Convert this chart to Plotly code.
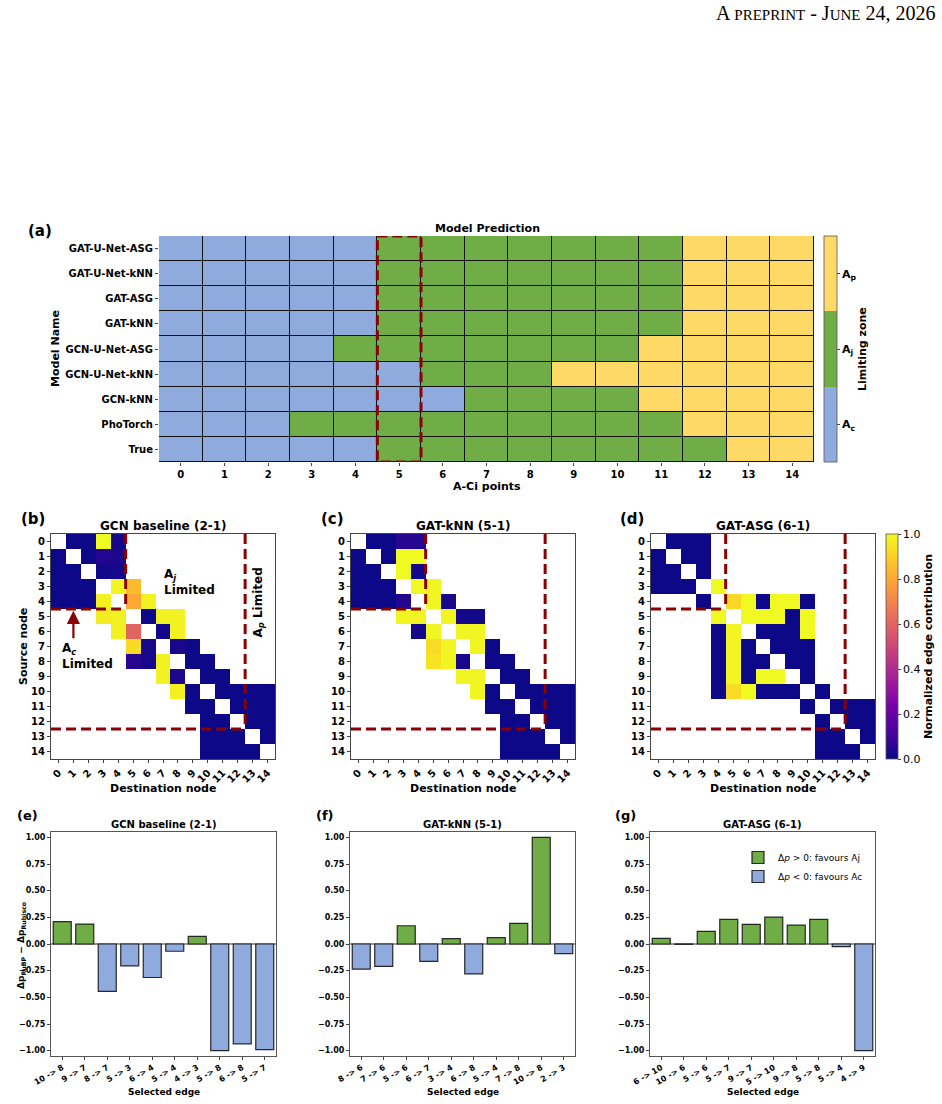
import plotly.graph_objects as go

W, H = 942, 1104
FONT = "DejaVu Sans"
DARKRED = "#8B0000"

# ---------------- Panel (a): limiting zone per model ----------------
model_names = ["GAT-U-Net-ASG", "GAT-U-Net-kNN", "GAT-ASG", "GAT-kNN",
               "GCN-U-Net-ASG", "GCN-U-Net-kNN", "GCN-kNN", "PhoTorch", "True"]
aci_points = list(range(15))
zone_labels = ["A<sub>c</sub>", "A<sub>j</sub>", "A<sub>p</sub>"]
zone_colors = ["#8FAADC", "#70AD47", "#FFD966"]
zones_gat_unet_asg = [0, 0, 0, 0, 0, 1, 1, 1, 1, 1, 1, 1, 2, 2, 2]
zones_gat_unet_knn = [0, 0, 0, 0, 0, 1, 1, 1, 1, 1, 1, 1, 2, 2, 2]
zones_gat_asg = [0, 0, 0, 0, 0, 1, 1, 1, 1, 1, 1, 1, 2, 2, 2]
zones_gat_knn = [0, 0, 0, 0, 0, 1, 1, 1, 1, 1, 1, 1, 2, 2, 2]
zones_gcn_unet_asg = [0, 0, 0, 0, 1, 1, 1, 1, 1, 1, 1, 2, 2, 2, 2]
zones_gcn_unet_knn = [0, 0, 0, 0, 0, 0, 1, 1, 1, 2, 2, 2, 2, 2, 2]
zones_gcn_knn = [0, 0, 0, 0, 0, 0, 0, 1, 1, 1, 1, 2, 2, 2, 2]
zones_photorch = [0, 0, 0, 1, 1, 1, 1, 1, 1, 1, 1, 1, 2, 2, 2]
zones_true = [0, 0, 0, 0, 0, 1, 1, 1, 1, 1, 1, 1, 1, 2, 2]
highlight_point = 5

# ---------------- Panels (b)-(d): normalized edge contributions ----------------
nodes = list(range(15))
ac_last_node = 4
aj_last_node = 12
N = None
edge_gcn = [
    [N, 0, 0, 1.0, 0.02, N, N, N, N, N, N, N, N, N, N],
    [0, N, 0, 0.04, 0.03, N, N, N, N, N, N, N, N, N, N],
    [0, 0, N, 0.01, 0.02, N, N, N, N, N, N, N, N, N, N],
    [0, 0, 0, N, 0.99, 0.85, N, N, N, N, N, N, N, N, N],
    [0, 0, 0, 0.98, N, 0.8, 0.98, N, N, N, N, N, N, N, N],
    [N, N, N, 0.97, 0.98, N, 0.0, 0.98, 0.98, N, N, N, N, N, N],
    [N, N, N, N, 0.98, 0.6, N, 0.01, 0.98, N, N, N, N, N, N],
    [N, N, N, N, N, 0.93, 0.02, N, 0.02, 0.0, N, N, N, N, N],
    [N, N, N, N, N, 0.05, 0.02, 0.98, N, 0.0, 0.0, N, N, N, N],
    [N, N, N, N, N, N, N, 0.98, 0.03, N, 0.0, 0.0, N, N, N],
    [N, N, N, N, N, N, N, N, 0.98, 0.0, N, 0.0, 0.0, 0.0, 0.0],
    [N, N, N, N, N, N, N, N, N, 0.0, 0.0, N, 0.0, 0.0, 0.0],
    [N, N, N, N, N, N, N, N, N, N, 0.0, 0.0, N, 0.0, 0.0],
    [N, N, N, N, N, N, N, N, N, N, 0.0, 0.0, 0.0, N, 0.0],
    [N, N, N, N, N, N, N, N, N, N, 0.0, 0.0, 0.0, 0.0, N],
]
edge_gat_knn = [
    [N, 0, 0, 0.05, 0.05, N, N, N, N, N, N, N, N, N, N],
    [0, N, 0, 1.0, 1.0, N, N, N, N, N, N, N, N, N, N],
    [0, 0, N, 1.0, 0.01, N, N, N, N, N, N, N, N, N, N],
    [0, 0, 0, N, 1.0, 0.99, N, N, N, N, N, N, N, N, N],
    [0, 0, 0, 0.04, N, 0.99, 0.02, N, N, N, N, N, N, N, N],
    [N, N, N, 0.99, 0.99, N, 0.99, 0.01, 0.01, N, N, N, N, N, N],
    [N, N, N, N, 0.01, 0.99, N, 0.99, 0.99, N, N, N, N, N, N],
    [N, N, N, N, N, 0.93, 0.99, N, 0.99, 0.0, N, N, N, N, N],
    [N, N, N, N, N, 0.95, 0.99, 0.02, N, 0.0, 0.0, N, N, N, N],
    [N, N, N, N, N, N, N, 0.99, 0.99, N, 0.0, 0.0, N, N, N],
    [N, N, N, N, N, N, N, N, 0.99, 0.0, N, 0.0, 0.0, 0.0, 0.0],
    [N, N, N, N, N, N, N, N, N, 0.0, 0.0, N, 0.0, 0.0, 0.0],
    [N, N, N, N, N, N, N, N, N, N, 0.0, 0.0, N, 0.0, 0.0],
    [N, N, N, N, N, N, N, N, N, N, 0.0, 0.0, 0.0, N, 0.0],
    [N, N, N, N, N, N, N, N, N, N, 0.0, 0.0, 0.0, 0.0, N],
]
edge_gat_asg = [
    [N, 0, 0, 0, N, N, N, N, N, N, N, N, N, N, N],
    [0, N, 0, 0, N, N, N, N, N, N, N, N, N, N, N],
    [0, 0, N, 0, N, N, N, N, N, N, N, N, N, N, N],
    [0, 0, 0, N, 1.0, N, N, N, N, N, N, N, N, N, N],
    [N, N, N, 0.0, N, 0.92, 1.0, 0.0, 1.0, 1.0, 0.0, N, N, N, N],
    [N, N, N, N, 1.0, N, 1.0, 1.0, 1.0, 0.0, 1.0, N, N, N, N],
    [N, N, N, N, 0.0, 0.99, N, 0.0, 0.0, 0.0, 1.0, N, N, N, N],
    [N, N, N, N, 0.0, 0.99, 0.0, N, 0.0, 0.0, 0.0, N, N, N, N],
    [N, N, N, N, 0.0, 0.99, 0.0, 0.0, N, 0.0, 0.0, N, N, N, N],
    [N, N, N, N, 0.0, 0.99, 0.0, 1.0, 1.0, N, 0.0, N, N, N, N],
    [N, N, N, N, 0.0, 0.93, 1.0, 0.0, 0.0, 0.0, N, 0.0, N, N, N],
    [N, N, N, N, N, N, N, N, N, N, 0.0, N, 0.0, 0.0, 0.0],
    [N, N, N, N, N, N, N, N, N, N, N, 0.0, N, 0.0, 0.0],
    [N, N, N, N, N, N, N, N, N, N, N, 0.0, 0.0, N, 0.0],
    [N, N, N, N, N, N, N, N, N, N, N, 0.0, 0.0, 0.0, N],
]

# ---------------- Panels (e)-(g): delta probability per edge ----------------
edges_gcn = ["10 -> 8", "9 -> 7", "8 -> 7", "5 -> 3", "6 -> 4",
             "5 -> 4", "4 -> 3", "5 -> 8", "6 -> 8", "5 -> 7"]
dp_gcn = [0.21, 0.187, -0.445, -0.205, -0.314, -0.068, 0.072, -1.0, -0.936, -0.99]
edges_gat_knn = ["8 -> 6", "7 -> 6", "5 -> 6", "6 -> 7", "3 -> 4",
                 "6 -> 8", "5 -> 4", "7 -> 8", "10 -> 8", "2 -> 3"]
dp_gat_knn = [-0.236, -0.21, 0.171, -0.162, 0.05, -0.28, 0.059, 0.193, 1.0, -0.09]
edges_gat_asg = ["6 -> 10", "10 -> 6", "5 -> 6", "5 -> 7", "9 -> 7",
                 "5 -> 10", "9 -> 8", "5 -> 8", "5 -> 4", "4 -> 9"]
dp_gat_asg = [0.053, -0.003, 0.118, 0.23, 0.184, 0.252, 0.177, 0.23, -0.025, -1.0]
pos_color = "#70AD47"
neg_color = "#8FAADC"
pos_label = "Δ<i>p</i> &gt; 0: favours Aj"
neg_label = "Δ<i>p</i> &lt; 0: favours Ac"

# ---------------- helpers ----------------
def xd(x0, x1):
    return [x0 / W, x1 / W]


def yd(y0, y1):
    return [1 - y1 / H, 1 - y0 / H]


def px(x):
    return x / W


def py(y):
    return 1 - y / H


def bold(size, color="black"):
    return dict(family=FONT, size=size, color=color, weight="bold")


fig = go.Figure()

# ---- (a) heatmap ----
zone_rows = [zones_gat_unet_asg, zones_gat_unet_knn, zones_gat_asg, zones_gat_knn,
             zones_gcn_unet_asg, zones_gcn_unet_knn, zones_gcn_knn, zones_photorch,
             zones_true]
disc_scale = []
for i, c in enumerate(zone_colors):
    disc_scale.append([i / 3, c])
    disc_scale.append([(i + 1) / 3, c])
fig.add_trace(go.Heatmap(
    z=zone_rows, x=aci_points, y=list(range(len(model_names))),
    colorscale=disc_scale, zmin=-0.5, zmax=2.5, xgap=1, ygap=1,
    xaxis="x", yaxis="y",
    colorbar=dict(x=px(824), xanchor="left", y=py(349), yanchor="middle",
                  lenmode="pixels", len=226, thickness=13, xpad=0, ypad=0,
                  tickvals=[0, 1, 2], ticktext=["<b>%s</b>" % t for t in zone_labels],
                  ticks="outside", ticklen=3, tickfont=bold(11),
                  outlinewidth=0.8, outlinecolor="#555"),
))

# ---- (b)-(d) heatmaps ----
for k, (mat, showscale) in enumerate([(edge_gcn, False), (edge_gat_knn, False),
                                      (edge_gat_asg, True)]):
    fig.add_trace(go.Heatmap(
        z=mat, x=nodes, y=nodes, colorscale="Plasma", zmin=0, zmax=1,
        xaxis=f"x{k + 2}", yaxis=f"y{k + 2}", showscale=showscale,
        colorbar=dict(x=px(886), xanchor="left", y=py(646.5), yanchor="middle",
                      lenmode="pixels", len=225, thickness=12, xpad=0, ypad=0,
                      tickvals=[0, 0.2, 0.4, 0.6, 0.8, 1.0], tickformat=".1f",
                      ticks="outside", ticklen=3,
                      tickfont=dict(family=FONT, size=11, color="black"),
                      outlinewidth=0.8, outlinecolor="#555"),
    ))

# ---- (e)-(g) bars ----
bar_sets = [(edges_gcn, dp_gcn), (edges_gat_knn, dp_gat_knn), (edges_gat_asg, dp_gat_asg)]
for k, (edges, vals) in enumerate(bar_sets):
    xs = list(range(len(edges)))
    pos = [v if v > 0 else None for v in vals]
    neg = [v if v <= 0 else None for v in vals]
    show = (k == 2)
    fig.add_trace(go.Bar(x=xs, y=pos, width=0.8, marker_color=pos_color,
                         marker_line=dict(color="rgba(20,20,20,0.9)", width=1.2),
                         name=pos_label, showlegend=show,
                         xaxis=f"x{k + 5}", yaxis=f"y{k + 5}"))
    fig.add_trace(go.Bar(x=xs, y=neg, width=0.8, marker_color=neg_color,
                         marker_line=dict(color="rgba(20,20,20,0.9)", width=1.2),
                         name=neg_label, showlegend=show,
                         xaxis=f"x{k + 5}", yaxis=f"y{k + 5}"))

# ---------------- axes ----------------
layout = dict(
    width=W, height=H, margin=dict(l=0, r=0, t=0, b=0, autoexpand=False),
    paper_bgcolor="white", plot_bgcolor="white", barmode="overlay",
    font=dict(family=FONT, color="black"),
    legend=dict(x=px(738), y=py(843), xanchor="left", yanchor="top",
                bgcolor="rgba(255,255,255,0)", font=dict(family=FONT, size=9),
                tracegroupgap=0, itemwidth=30),
)

layout["xaxis"] = dict(domain=xd(159, 814), range=[-0.5, 14.5], anchor="y",
                       tickvals=aci_points, ticks="outside", ticklen=3,
                       tickfont=bold(10), showgrid=False, zeroline=False,
                       automargin=False)
layout["yaxis"] = dict(domain=yd(236, 462), range=[len(model_names) - 0.5, -0.5],
                       anchor="x", tickvals=list(range(len(model_names))),
                       ticktext=model_names, ticks="outside", ticklen=3,
                       tickfont=bold(10), showgrid=False, zeroline=False,
                       automargin=False)

hm_x = [(51, 275), (351, 575), (651, 875)]
for k in range(3):
    i = k + 2
    layout[f"xaxis{i}"] = dict(domain=xd(*hm_x[k]), range=[-0.5, 14.5], anchor=f"y{i}",
                               tickvals=nodes, tickangle=-45, ticks="outside",
                               ticklen=3, tickfont=bold(10), showgrid=False,
                               zeroline=False, showline=True, mirror=True,
                               linecolor="#444", linewidth=1, automargin=False)
    layout[f"yaxis{i}"] = dict(domain=yd(534, 759), range=[14.5, -0.5], anchor=f"x{i}",
                               tickvals=nodes, ticks="outside", ticklen=3,
                               tickfont=bold(10), showgrid=False, zeroline=False,
                               showline=True, mirror=True, linecolor="#444",
                               linewidth=1, automargin=False)

bar_x = [(51, 276), (350, 575), (650, 875)]
for k in range(3):
    i = k + 5
    edges = bar_sets[k][0]
    layout[f"xaxis{i}"] = dict(domain=xd(*bar_x[k]), range=[-0.5, len(edges) - 0.5],
                               anchor=f"y{i}", tickvals=list(range(len(edges))),
                               ticktext=edges, tickangle=-30, ticks="outside",
                               ticklen=3, tickfont=bold(8), showgrid=False,
                               zeroline=False, showline=True, mirror=True,
                               linecolor="#555", linewidth=1, automargin=False)
    layout[f"yaxis{i}"] = dict(domain=yd(832, 1056), range=[-1.05, 1.05], anchor=f"x{i}",
                               tickvals=[-1, -0.75, -0.5, -0.25, 0, 0.25, 0.5, 0.75, 1],
                               tickformat=".2f", ticks="outside", ticklen=3,
                               tickfont=bold(8), showgrid=False, zeroline=True,
                               zerolinecolor="#999", zerolinewidth=1.5,
                               showline=True, mirror=True, linecolor="#555",
                               linewidth=1, automargin=False)

fig.update_layout(**layout)

# ---------------- shapes ----------------
shapes = []
# black backdrop so cell gaps in (a) read as grid lines
shapes.append(dict(type="rect", xref="x domain", yref="y domain", x0=0, x1=1,
                   y0=0, y1=1, fillcolor="#111", line_width=0, layer="below"))
# highlighted A-Ci point
shapes.append(dict(type="rect", xref="x", yref="y",
                   x0=highlight_point - 0.5, x1=highlight_point + 0.5,
                   y0=-0.5, y1=len(model_names) - 0.5,
                   line=dict(color=DARKRED, width=3, dash="10px,5px")))
# region boundaries on (b)-(d)
for k in range(3):
    i = k + 2
    xr, yr = f"x{i}", f"y{i}"
    for b in (ac_last_node + 0.5, aj_last_node + 0.5):
        shapes.append(dict(type="line", xref=xr, yref=yr, x0=-0.5, x1=b, y0=b, y1=b,
                           line=dict(color=DARKRED, width=3, dash="10px,5px")))
        shapes.append(dict(type="line", xref=xr, yref=yr, x0=b, x1=b, y0=-0.5, y1=b,
                           line=dict(color=DARKRED, width=3, dash="10px,5px")))
fig.update_layout(shapes=shapes)

# ---------------- annotations ----------------
ann = []


def txt(x, y, text, size, angle=0, xanchor="center", yanchor="middle"):
    ann.append(dict(x=px(x), y=py(y), xref="paper", yref="paper",
                    text="<b>%s</b>" % text,
                    showarrow=False, textangle=angle, xanchor=xanchor,
                    yanchor=yanchor, font=bold(size)))


# header
ann.append(dict(x=px(937), y=py(13), xref="paper", yref="paper", showarrow=False,
                xanchor="right", yanchor="middle",
                text="A <span style='font-size:15px'>PREPRINT</span> - J"
                     "<span style='font-size:15px'>UNE</span> 24, 2026",
                font=dict(family="Liberation Serif", size=20, color="black")))

txt(40, 231, "(a)", 15)
txt(487, 228, "Model Prediction", 11)
txt(487, 486, "A-Ci points", 11)
txt(55, 349, "Model Name", 11, angle=-90)
txt(862, 349, "Limiting zone", 11, angle=-90)

panel_titles = ["GCN baseline (2-1)", "GAT-kNN (5-1)", "GAT-ASG (6-1)"]
for lab, cx in zip(["(b)", "(c)", "(d)"], [33, 332, 632]):
    txt(cx, 519, lab, 15)
for k, (x0, x1) in enumerate(hm_x):
    txt((x0 + x1) / 2, 526, panel_titles[k], 12)
    txt((x0 + x1) / 2, 788, "Destination node", 11)
txt(23, 647, "Source node", 11, angle=-90)
txt(928, 647, "Normalized edge contribution", 11, angle=-90)

for lab, cx in zip(["(e)", "(f)", "(g)"], [27, 325, 625]):
    txt(cx, 815, lab, 13)
for k, (x0, x1) in enumerate(bar_x):
    txt((x0 + x1) / 2, 824, panel_titles[k], 10)
    txt((x0 + x1) / 2, 1092, "Selected edge", 9)
txt(21, 945, "Δp<sub>RuBP</sub> − Δp<sub>Rubisco</sub>", 9, angle=-90)

# in-plot annotations of (b)
ann.append(dict(x=6.95, y=2.7, xref="x2", yref="y2", showarrow=False,
                xanchor="left", yanchor="middle", align="left",
                text="<b>A<sub><i>j</i></sub><br>Limited</b>", font=bold(12)))
ann.append(dict(x=13.4, y=4.1, xref="x2", yref="y2", showarrow=False,
                textangle=-90, xanchor="center", yanchor="middle",
                text="<b>A<sub><i>p</i></sub> Limited</b>", font=bold(12)))
ann.append(dict(x=0.1, y=7.6, xref="x2", yref="y2", showarrow=False,
                xanchor="left", yanchor="middle", align="left",
                text="<b>A<sub><i>c</i></sub><br>Limited</b>", font=bold(12)))
ann.append(dict(x=1.0, y=ac_last_node + 0.62, xref="x2", yref="y2",
                ax=1.0, ay=6.55, axref="x2", ayref="y2", text="",
                showarrow=True, arrowhead=2, arrowsize=1.2, arrowwidth=2.2,
                arrowcolor=DARKRED))

fig.update_layout(annotations=ann)

fig.write_html("out.html")
